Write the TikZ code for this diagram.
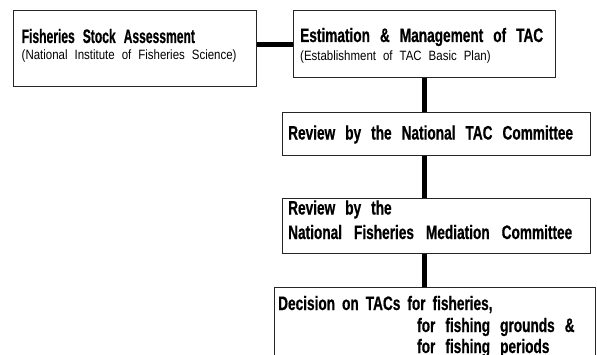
\documentclass[tikz,border=0pt]{standalone}
\usepackage{fontspec}
\newfontfamily\headfam[FakeStretch=0.7,FakeBold=0.6]{Liberation Sans}
\newfontfamily\narrowheadfam[FakeStretch=0.62,FakeBold=0.6]{Liberation Sans}
\newfontfamily\subfam[FakeStretch=0.85]{Liberation Sans}
\newcommand\wordgap[1]{\spaceskip=#1\relax}
\newcommand\headfont{\headfam\fontsize{19.5}{22}\selectfont\bfseries\wordgap{10pt}}
\newcommand\narrowheadfont{\narrowheadfam\fontsize{19.5}{22}\selectfont\bfseries\wordgap{8pt}}
\newcommand\subfont{\subfam\fontsize{13.5}{15}\selectfont\wordgap{7pt}}
\begin{document}
\begin{tikzpicture}[x=1pt,y=1pt,
  box/.style={draw=black!85, line width=1.1pt, rectangle, inner sep=0pt, anchor=north west},
  link/.style={line width=5pt, black},
  head/.style={anchor=base west, inner sep=0pt, font=\headfont},
  sub/.style={anchor=base west, inner sep=0pt, font=\subfont}]
\clip (0,0) rectangle (597,354);
% boxes (top-left corner, size)
\node[box, minimum width=243pt, minimum height=76pt] (b1) at (13,344) {};
\node[box, minimum width=262pt, minimum height=67pt] (b2) at (293,344) {};
\node[box, minimum width=308pt, minimum height=43pt] (b3) at (282,242) {};
\node[box, minimum width=308pt, minimum height=55pt] (b4) at (282,156) {};
\node[box, minimum width=321pt, minimum height=90pt] (b5) at (274,67) {};
% labels
\node[head, font=\narrowheadfont] (t1) at (21.5,311) {Fisheries Stock Assessment};
\node[sub]  (s1) at (21.5,294) {(National Institute of Fisheries Science)};
\node[head] (t2) at (300,312) {Estimation \& Management of TAC};
\node[sub]  (s2) at (300,293) {(Establishment of TAC Basic Plan)};
\node[head] (t3) at (288,214.5) {Review by the National TAC Committee};
\node[head] (t4a) at (288,139.5) {Review by the};
\node[head, font={\headfont\wordgap{12pt}}] (t4b) at (288,115) {National Fisheries Mediation Committee};
\node[head, font={\headfont\wordgap{7pt}}] (t5a) at (278,44) {Decision on TACs for fisheries,};
\node[head] (t5b) at (417,22) {for fishing grounds \&};
\node[head] (t5c) at (417,1) {for fishing periods};
% connectors
\draw[link] (b1.east |- b2.west) -- (b2.west);
\draw[link] (b2.south) -- (b3.north -| b2.south);
\draw[link] (b3.south -| b2.south) -- (b4.north -| b2.south);
\draw[link] (b4.south -| b2.south) -- (b5.north -| b2.south);
\end{tikzpicture}
\end{document}
